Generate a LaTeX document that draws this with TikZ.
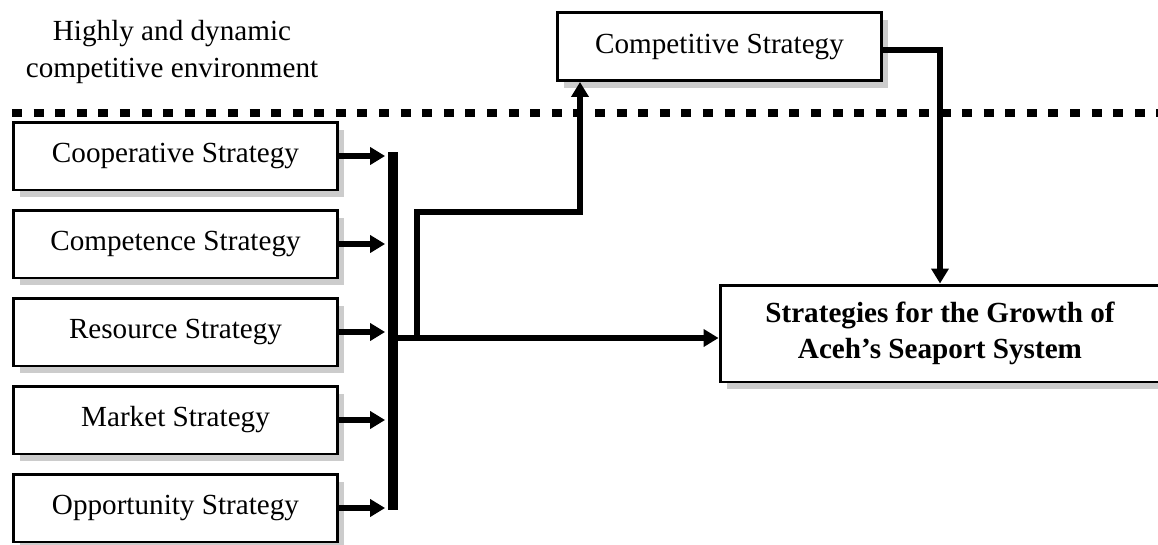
\documentclass[tikz,border=0pt]{standalone}
\usepackage{fontspec}
\setmainfont{Liberation Serif}
\usetikzlibrary{shadows,arrows.meta}

\begin{document}
\begin{tikzpicture}[x=0.02cm,y=-0.02cm,
    sbox/.style={draw,
        line width=1.7pt,
        fill=white,
        minimum width=6.5cm,
        minimum height=1.36cm,
        font=\fontsize{16.6}{21}\selectfont,
        drop shadow={shadow xshift=0.13cm,shadow yshift=-0.15cm,fill=black!20,opacity=1}},
    flow/.style={line width=3.8pt,
        -{Triangle[length=0.3cm,width=0.34cm]}}]
\useasboundingbox (0,0) rectangle (1158,544);

% Environment label
\node [align=center,
    font=\fontsize{16.6}{21}\selectfont] (env) at (172,52)
    {Highly and dynamic\\competitive environment};

% Dotted boundary
\draw [line width=4.5pt,
    dash pattern=on 5.69pt off 6.6pt] (12,113) -- (1158,113);

% Strategy boxes
\node [sbox] (coop) at (175.5,156) {Cooperative Strategy};
\node [sbox] (compe) at (175.5,244) {Competence Strategy};
\node [sbox] (res) at (175.5,332) {Resource Strategy};
\node [sbox] (mkt) at (175.5,420) {Market Strategy};
\node [sbox] (opp) at (175.5,508) {Opportunity Strategy};

% Competitive strategy
\node [sbox] (comp) at (719.5,46.5) {Competitive Strategy};

% Growth box
\node [sbox,
    minimum width=8.8cm,
    minimum height=1.94cm,
    align=center,
    font=\fontsize{16.6}{20.5}\selectfont\bfseries] (grow) at (940,333.5)
    {Strategies for the Growth of\\Aceh's Seaport System};

% Collecting bar
\coordinate (bartop) at (393,152);
\coordinate (barbot) at (393,510);
\draw [line width=5.5pt] (bartop) -- (barbot);

\foreach \s in {coop,compe,res,mkt,opp}
    \draw [flow,shorten >=4.5pt] (\s.east) -- (\s.east -| bartop);

% Main output
\coordinate (join) at (393,338);
\draw [flow] (join) -- (join -| grow.west);

% Branch to competitive strategy
\coordinate (fork) at (417,338);
\coordinate (up) at (580,212);
\draw [flow] (fork) |- (up) -- (up |- comp.south);

% Competitive strategy to growth
\coordinate (down) at (940,50);
\draw [flow] (comp.east |- down) -- (down) -- (grow.north);

\end{tikzpicture}
\end{document}
